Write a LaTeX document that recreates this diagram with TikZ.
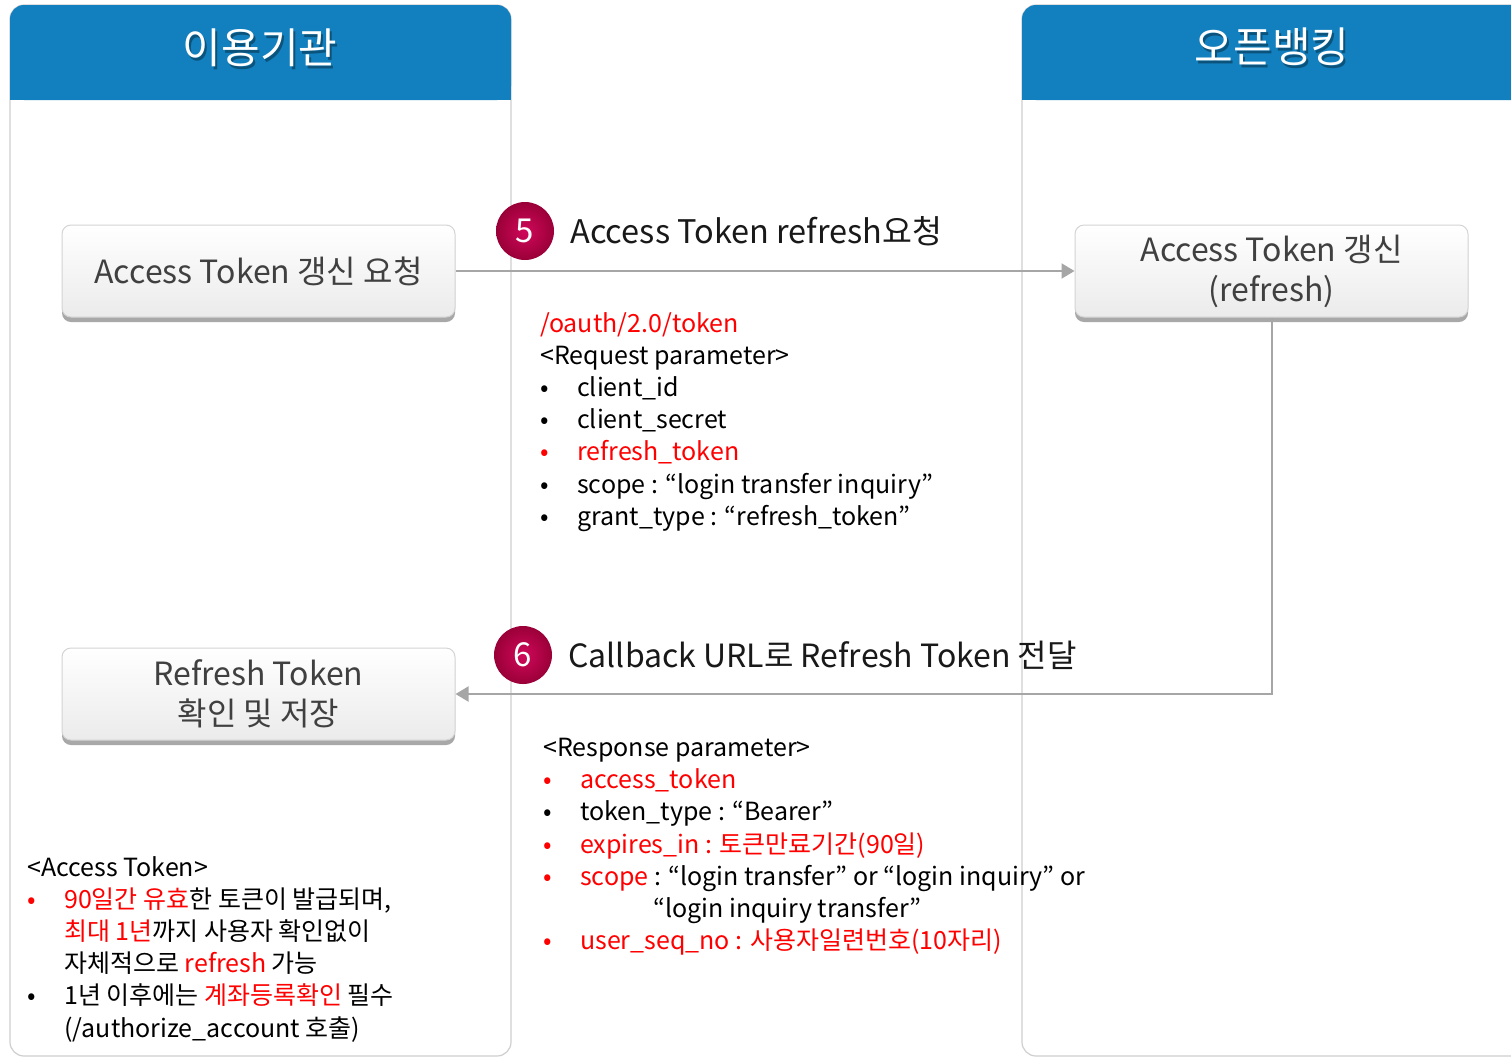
\documentclass[tikz,border=0pt]{standalone}
\usepackage{fontspec}
\setmainfont{Noto Sans CJK KR}
\usetikzlibrary{arrows.meta,positioning,shadows}

\definecolor{laneblue}{HTML}{1280BE}
\definecolor{lanegray}{HTML}{CFCFCF}
\definecolor{boxborder}{HTML}{D4D4D4}
\definecolor{boxfill}{HTML}{EBEBEB}
\definecolor{boxtext}{HTML}{404040}
\definecolor{shadowgray}{HTML}{A8A8A8}
\definecolor{linegray}{HTML}{A6A6A6}
\definecolor{stepred}{HTML}{D0085A}
\definecolor{stepdark}{HTML}{9A0038}
\definecolor{tokred}{HTML}{FF0000}

\newcommand{\blt}{\makebox[37pt][l]{•}}
\newcommand{\rblt}{\textcolor{tokred}{\blt}}

\begin{document}
\begin{tikzpicture}
[x=1pt, y=-1pt,
% STYLES
% swim lanes and their title bars
lane/.style={draw=lanegray, line width=1.2pt, fill=white, rounded corners=14pt},
header/.style={fill=laneblue},
hdrtext/.style={text=white, inner sep=0pt, font=\fontsize{42}{44}\selectfont},
% process boxes
procbox/.style={rectangle, rounded corners=9pt, draw=boxborder, line width=1pt, top color=white, bottom color=boxfill, minimum width=393pt, minimum height=92pt, align=center, text=boxtext, font=\fontsize{32}{40}\selectfont, general shadow={fill=shadowgray, shadow yshift=-5pt}},
% numbered steps
stepmark/.style={circle, minimum size=58pt, inner sep=0pt, inner color=stepred, outer color=stepdark, text=white, font=\fontsize{33}{36}\selectfont},
steplabel/.style={inner sep=0pt, text=black!90, font=\fontsize{32.5}{36}\selectfont},
% parameter notes
note/.style={inner sep=0pt, align=left, anchor=north west, font=\fontsize{25}{32.2}\selectfont},
flow/.style={draw=linegray, line width=2pt, -{Triangle[length=13pt,width=15pt]}}]

\useasboundingbox (0,0) rectangle (1511,1058);
\fill[white] (0,0) rectangle (1511,1058);
\clip (0,0) rectangle (1511,1058);

% Draw lanes
\draw[lane] (10,5) rectangle (511,1056);
\draw[lane] (1022,5) rectangle (1540,1056);
\fill[header, rounded corners=14pt] (10,5) rectangle (511,100);
\fill[header] (10,50) rectangle (511,100);
\fill[header, rounded corners=14pt] (1022,5) rectangle (1540,100);
\fill[header] (1022,50) rectangle (1540,100);

\node[hdrtext, text=black, opacity=0.35] (orgshadow) at (262,51) {이용기관};
\node[hdrtext] (orgtitle) at (260,48) {이용기관};
\node[hdrtext, text=black, opacity=0.35] (obshadow) at (1274,50) {오픈뱅킹};
\node[hdrtext] (obtitle) at (1272,47) {오픈뱅킹};

% Draw boxes
\node[procbox] (askbox) at (258.5,271) {Access Token 갱신 요청};
\node[procbox] (renewbox) at (1271.5,271) {Access Token 갱신\\(refresh)};
\node[procbox] (storebox) at (258.5,694) {Refresh Token\\확인 및 저장};

%%%%%%%%%%%%%%%

\draw[flow] (askbox.east) -- (renewbox.west);
\draw[flow] (renewbox.south) |- (storebox.east);

% steps
\node[stepmark] (step5) at (525,231) {5};
\node[steplabel, right=16pt of step5] (label5) {Access Token refresh요청};

\node[stepmark] (step6) at (523,655) {6};
\node[steplabel, right=16pt of step6, font=\fontsize{32}{36}\selectfont] (label6) {Callback URL로 Refresh Token 전달};

%%%%%%%%%%%%%%%

% request
\node[note] (reqnote) at (540,312) {\textcolor{tokred}{/oauth/2.0/token}\\
<Request parameter>\\
\blt client\_id\\
\blt client\_secret\\
\rblt\textcolor{tokred}{refresh\_token}\\
\blt scope : “login transfer inquiry”\\
\blt grant\_type : “refresh\_token”};

% response
\node[note] (respnote) at (543,738) {<Response parameter>\\
\rblt\textcolor{tokred}{access\_token}\\
\blt token\_type : “Bearer”\\
\rblt\textcolor{tokred}{expires\_in : 토큰만료기간(90일)}\\
\rblt\textcolor{tokred}{scope} : “login transfer” or “login inquiry” or\\
\hspace*{110pt}“login inquiry transfer”\\
\rblt\textcolor{tokred}{user\_seq\_no : 사용자일련번호(10자리)}};

% access token
\node[note] (tokennote) at (27,856) {<Access Token>\\
\rblt\textcolor{tokred}{90일간 유효}한 토큰이 발급되며,\\
\hspace*{37pt}\textcolor{tokred}{최대 1년}까지 사용자 확인없이\\
\hspace*{37pt}자체적으로 \textcolor{tokred}{refresh} 가능\\
\blt 1년 이후에는 \textcolor{tokred}{계좌등록확인} 필수\\
\hspace*{37pt}(/authorize\_account 호출)};

\end{tikzpicture}
\end{document}
